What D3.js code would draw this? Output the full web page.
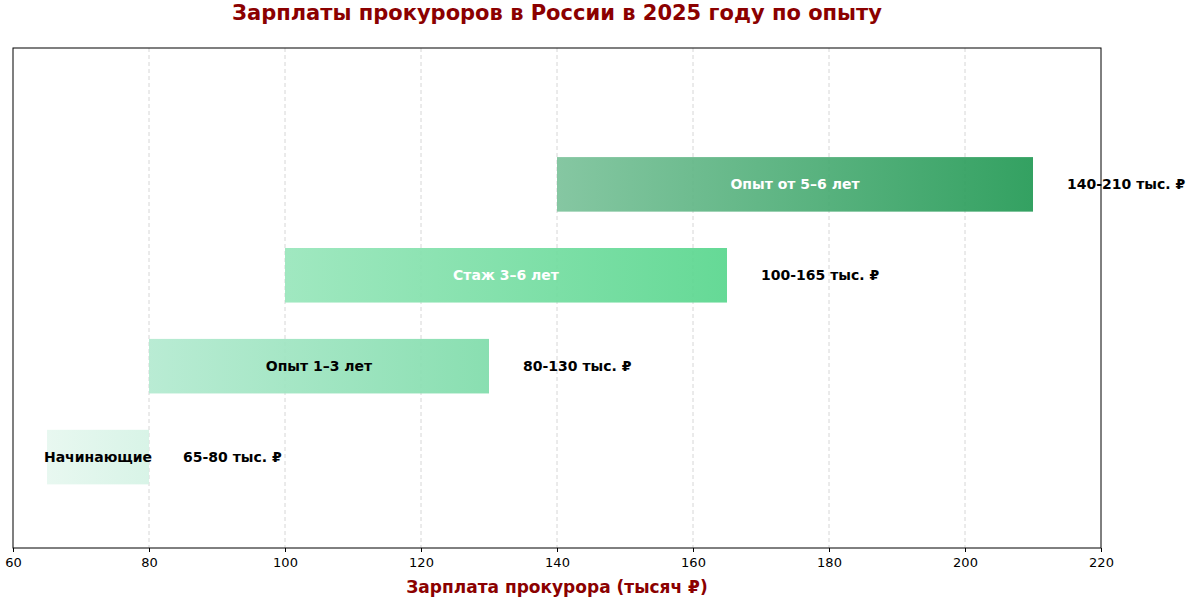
<!DOCTYPE html><html><head><meta charset="utf-8"><script src="https://cdn.jsdelivr.net/npm/d3@7"></script>
<style>body{margin:0;background:#fff}text{font-family:"DejaVu Sans",sans-serif}</style></head><body><svg id="c" width="1200" height="600"></svg>
<script>
const categories=["Начинающие","Опыт 1–3 лет","Стаж 3–6 лет","Опыт от 5–6 лет"];
const minVals=[65,80,100,140];
const maxVals=[80,130,165,210];
const rangeLabels=["65-80 тыс. ₽","80-130 тыс. ₽","100-165 тыс. ₽","140-210 тыс. ₽"];
const colorStart=["#e6f7ef","#b3ead0","#98e6bb","#7bc29a"];
const colorEnd=["#d5f3e5","#7fdcaa","#58d68d","#229954"];
const textColors=["#000","#000","#fff","#fff"];
const xTicks=[60,80,100,120,140,160,180,200,220];
const svg=d3.select("#c");
const L=13,R=1101,T=48,B=548;
const x=d3.scaleLinear().domain([60,220]).range([L,R]);
const y=d3.scaleLinear().domain([-1,4.5]).range([B,T]);
const defs=svg.append("defs");
categories.forEach((c,i)=>{const g=defs.append("linearGradient").attr("id","g"+i);
g.append("stop").attr("offset","0%").attr("stop-color",colorStart[i]);
g.append("stop").attr("offset","100%").attr("stop-color",colorEnd[i]);});
svg.append("g").selectAll("line").data(xTicks.slice(1,-1)).join("line")
.attr("x1",d=>x(d)).attr("x2",d=>x(d)).attr("y1",T).attr("y2",B)
.attr("stroke","#ccc").attr("stroke-dasharray","4,3").attr("stroke-width",0.8);
const bh=y(0)-y(0.6);
svg.append("g").selectAll("rect").data(categories).join("rect")
.attr("x",(d,i)=>x(minVals[i])).attr("width",(d,i)=>x(maxVals[i])-x(minVals[i]))
.attr("y",(d,i)=>y(i)-bh/2).attr("height",bh).attr("fill",(d,i)=>`url(#g${i})`).attr("opacity",0.92);
svg.append("g").selectAll("text").data(categories).join("text")
.attr("x",(d,i)=>x((minVals[i]+maxVals[i])/2)).attr("y",(d,i)=>y(i)).attr("dy","0.35em")
.attr("text-anchor","middle").attr("font-size",14).attr("font-weight","bold").attr("fill",(d,i)=>textColors[i]).text(d=>d);
svg.append("g").selectAll("text").data(rangeLabels).join("text")
.attr("x",(d,i)=>x(maxVals[i]+5)).attr("y",(d,i)=>y(i)).attr("dy","0.35em")
.attr("font-size",14).attr("font-weight","bold").attr("fill","#000").text(d=>d);
svg.append("rect").attr("x",L).attr("y",T).attr("width",R-L).attr("height",B-T).attr("fill","none").attr("stroke","#000");
const ax=svg.append("g").attr("transform",`translate(0,${B})`).call(d3.axisBottom(x).tickValues(xTicks).tickSize(4).tickPadding(6));
ax.select(".domain").remove();ax.selectAll("text").attr("font-size",13).attr("font-family","DejaVu Sans").attr("fill","#000");
svg.append("text").attr("x",(L+R)/2).attr("y",593).attr("text-anchor","middle").attr("font-size",17).attr("font-weight","bold").attr("fill","#8b0000").text("Зарплата прокурора (тысяч ₽)");
svg.append("text").attr("x",557).attr("y",20).attr("text-anchor","middle").attr("font-size",21).attr("font-weight","bold").attr("fill","#8b0000").text("Зарплаты прокуроров в России в 2025 году по опыту");
</script></body></html>
